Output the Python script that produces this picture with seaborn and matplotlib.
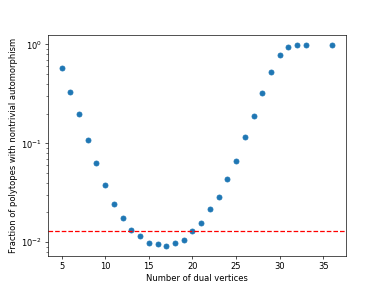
import matplotlib
matplotlib.use("Agg")
import matplotlib.pyplot as plt
import seaborn as sns
import pandas as pd

dual_vertices = [5, 6, 7, 8, 9, 10, 11, 12, 13, 14, 15, 16, 17, 18, 19, 20,
                 21, 22, 23, 24, 25, 26, 27, 28, 29, 30, 31, 32, 33, 36]
fraction = [0.576, 0.333, 0.196, 0.109, 0.0633, 0.0377, 0.0242, 0.0175,
            0.0134, 0.0115, 0.00993, 0.00954, 0.00911, 0.00993, 0.01055,
            0.0130, 0.01566, 0.0216, 0.0287, 0.0440, 0.0658, 0.115, 0.189,
            0.322, 0.521, 0.780, 0.947, 0.99, 0.995, 0.995]
threshold = 0.0129

df = pd.DataFrame({"n": dual_vertices, "frac": fraction})

fig, ax = plt.subplots(figsize=(6.4, 4.8), dpi=60)
sns.scatterplot(data=df, x="n", y="frac", ax=ax, s=36, color="#1f77b4",
                edgecolor="#1f77b4", linewidth=1.0)
ax.set_yscale("log")
ax.axhline(threshold, color="red", linestyle="--", linewidth=1.5)
ax.set_xlabel("Number of dual vertices")
ax.set_ylabel("Fraction of polytopes with nontrivial automorphism")
ax.set_xticks([5, 10, 15, 20, 25, 30, 35])
fig.savefig("out.png", dpi=60)
